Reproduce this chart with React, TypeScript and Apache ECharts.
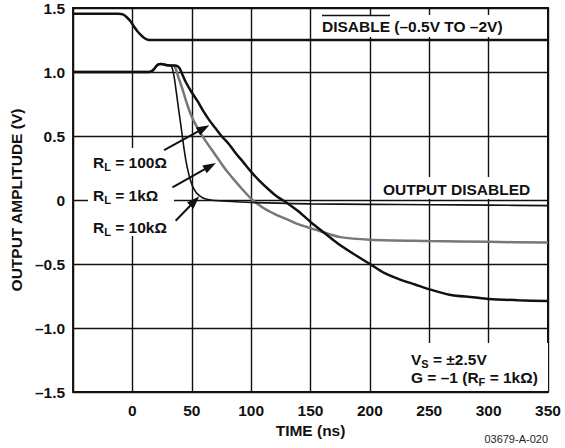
import React, { useEffect, useRef } from "react";
import * as echarts from "echarts";

// ---- data (ns, V) ----
const disableT = [-50, -12, -8, -5, -2, 1, 4, 7, 10, 13, 16, 350];
const disableV = [1.455, 1.455, 1.45, 1.43, 1.40, 1.36, 1.32, 1.29, 1.265, 1.252, 1.25, 1.25];

const startT = [-50, 14, 16, 18, 20, 22, 24, 27, 30, 32];
const startV = [1.0, 1.0, 1.005, 1.02, 1.045, 1.06, 1.063, 1.058, 1.052, 1.05];

const r10kT = [33, 35, 37, 39, 41, 43, 45, 47, 49, 51, 54, 57, 60, 66, 73, 100, 150, 200, 250, 300, 350];
const r10kV = [1.045, 0.97, 0.84, 0.70, 0.57, 0.43, 0.31, 0.22, 0.15, 0.10, 0.055, 0.03, 0.013, 0.0, -0.006, -0.02, -0.03, -0.034, -0.037, -0.04, -0.044];

const r1kT = [34, 36, 39, 42, 46, 50, 55, 61, 67, 73, 80, 90, 100, 110, 120, 130, 140, 150, 160, 175, 200, 250, 300, 350];
const r1kV = [1.05, 1.035, 0.95, 0.87, 0.75, 0.65, 0.56, 0.47, 0.39, 0.31, 0.22, 0.11, 0.01, -0.06, -0.11, -0.15, -0.19, -0.22, -0.25, -0.29, -0.31, -0.32, -0.327, -0.333];

const r100T = [33, 36, 38, 40, 42, 45, 50, 55, 60, 65, 70, 75, 81, 87, 93, 100, 106, 115, 122, 129, 140, 151, 162, 173, 186, 200, 212, 225, 238, 251, 267, 287, 300, 325, 350];
const r100V = [1.05, 1.05, 1.045, 1.025, 0.98, 0.92, 0.84, 0.77, 0.69, 0.62, 0.56, 0.50, 0.44, 0.365, 0.30, 0.22, 0.16, 0.08, 0.025, -0.015, -0.09, -0.18, -0.26, -0.34, -0.42, -0.50, -0.57, -0.62, -0.66, -0.70, -0.74, -0.76, -0.773, -0.783, -0.79];

// arrows: [fromT, fromV, toT, toV]
const arrow100 = [26.7, 0.39, 60, 0.559];
const arrow1k = [33.7, 0.099, 65.5, 0.264];
const arrow10k = [36.4, -0.162, 52.5, -0.008];

const xTicks = { min: -50, max: 350, step: 50 };
const yTicks = { min: -1.5, max: 1.5, step: 0.5 };

const zip = (t: number[], v: number[]) => t.map((x, i) => [x, v[i]]);
const FONT = "'Liberation Sans', Arial, Helvetica, sans-serif";
const FS = 15.5;

export default function App() {
  const ref = useRef<HTMLDivElement>(null);
  useEffect(() => {
    if (!ref.current) return;
    const chart = echarts.init(ref.current, undefined, { renderer: "svg" });
    const arrowLine = (a: number[]) => [
      { coord: [a[0], a[1]], symbol: "none" },
      { coord: [a[2], a[3]], symbol: "triangle", symbolSize: [9, 13] },
    ];
    const rich = {
      b: { fontFamily: FONT, fontWeight: "bold", fontSize: FS, fill: "#111", lineHeight: 20, verticalAlign: "middle" },
      s: { fontFamily: FONT, fontWeight: "bold", fontSize: 11, fill: "#111", lineHeight: 20, verticalAlign: "bottom", padding: [0, 0, 0, 0] },
    };
    const txt = (x: number, y: number, text: string, extra: any = {}) => ({
      type: "text",
      x,
      y,
      z: 5,
      style: { text, fontFamily: FONT, fontWeight: "bold", fontSize: FS, fill: "#111", textVerticalAlign: "middle", ...extra },
    });
    const rect = (x: number, y: number, w: number, h: number) => ({
      type: "rect",
      z: 4,
      shape: { x, y, width: w, height: h },
      style: { fill: "#fff" },
    });
    chart.setOption({
      animation: false,
      grid: { left: 70, top: 8, right: 17, bottom: 56, show: true, borderColor: "#111", borderWidth: 2, backgroundColor: "transparent" },
      xAxis: {
        type: "value",
        min: xTicks.min,
        max: xTicks.max,
        interval: xTicks.step,
        name: "TIME (ns)",
        nameLocation: "middle",
        nameGap: 29,
        nameTextStyle: { fontFamily: FONT, fontWeight: "bold", fontSize: FS, color: "#111" },
        axisLine: { show: false },
        axisTick: { show: false },
        axisLabel: {
          margin: 10,
          fontFamily: FONT,
          fontWeight: "bold",
          fontSize: FS,
          color: "#111",
          formatter: (v: number) => (v === xTicks.min ? "" : String(v)),
        },
        splitLine: { show: true, lineStyle: { color: "#111", width: 1.4 } },
      },
      yAxis: {
        type: "value",
        min: yTicks.min,
        max: yTicks.max,
        interval: yTicks.step,
        name: "OUTPUT AMPLITUDE (V)",
        nameLocation: "middle",
        nameGap: 47,
        nameRotate: 90,
        nameTextStyle: { fontFamily: FONT, fontWeight: "bold", fontSize: FS, color: "#111" },
        axisLine: { show: false },
        axisTick: { show: false },
        axisLabel: {
          margin: 8,
          fontFamily: FONT,
          fontWeight: "bold",
          fontSize: FS,
          color: "#111",
          formatter: (v: number) => (Math.abs(v) < 1e-9 ? "0" : (v < 0 ? "\u2013" : "") + Math.abs(v).toFixed(1)),
        },
        splitLine: { show: true, lineStyle: { color: "#111", width: 1.4 } },
      },
      series: [
        {
          type: "line",
          data: zip(disableT, disableV),
          showSymbol: false,
          smooth: 0.3,
          lineStyle: { color: "#111", width: 2.5 },
          z: 3,
          markLine: {
            silent: true,
            symbol: ["none", "triangle"],
            label: { show: false },
            lineStyle: { color: "#111", width: 2, type: "solid" },
            data: [arrowLine(arrow100), arrowLine(arrow1k), arrowLine(arrow10k)],
            z: 6,
          },
        },
        {
          type: "line",
          data: zip(startT.concat(r1kT), startV.concat(r1kV)),
          showSymbol: false,
          smooth: 0.3,
          lineStyle: { color: "#777", width: 2.5 },
          z: 3,
        },
        {
          type: "line",
          data: zip(startT.concat(r100T), startV.concat(r100V)),
          showSymbol: false,
          smooth: 0.3,
          lineStyle: { color: "#111", width: 2.5 },
          z: 3,
        },
        {
          type: "line",
          data: zip(startT.concat(r10kT), startV.concat(r10kV)),
          showSymbol: false,
          smooth: 0.3,
          lineStyle: { color: "#111", width: 1.6 },
          z: 3,
        },
      ],
      graphic: [
        rect(316, 15, 196, 22),
        txt(322, 26, "DISABLE (\u20130.5V TO \u20132V)"),
        { type: "line", z: 5, shape: { x1: 322, y1: 15.5, x2: 390, y2: 15.5 }, style: { stroke: "#111", lineWidth: 1.5 } },
        rect(88, 148, 86, 88),
        txt(93, 162, "{b|R}{s|L}{b| = 100\u03A9}", { rich }),
        txt(93, 195, "{b|R}{s|L}{b| = 1k\u03A9}", { rich }),
        txt(93, 227, "{b|R}{s|L}{b| = 10k\u03A9}", { rich }),
        rect(379, 177, 158, 22),
        txt(383, 189, "OUTPUT DISABLED"),
        rect(405, 343, 143, 48),
        txt(411, 359, "{b|V}{s|S}{b| = \u00B12.5V}", { rich }),
        txt(411, 377, "{b|G = \u20131 (R}{s|F}{b| = 1k\u03A9)}", { rich }),
        {
          type: "text",
          x: 548,
          y: 439,
          style: { text: "03679-A-020", fontFamily: FONT, fontSize: 11, fill: "#222", textAlign: "right", textVerticalAlign: "middle" },
        },
      ],
    });
    return () => chart.dispose();
  }, []);
  return <div ref={ref} style={{ position: "fixed", left: 0, top: 0, width: 565, height: 448, background: "#fff" }} />;
}
